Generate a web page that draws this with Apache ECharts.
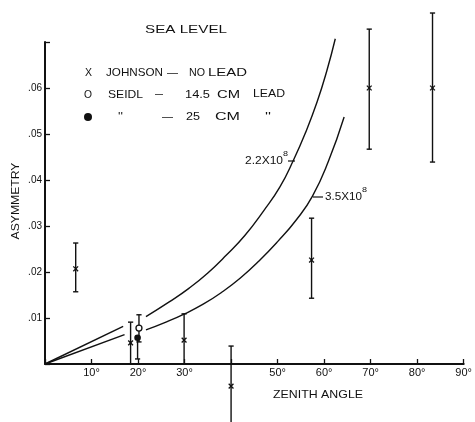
<!DOCTYPE html>
<html><head><meta charset="utf-8">
<script src="https://cdn.jsdelivr.net/npm/echarts@6/dist/echarts.min.js"></script>
<style>html,body{margin:0;padding:0;background:#fff}#c{width:475px;height:422px}</style>
</head><body><div id="c"></div>
<script>
// ---- tick labels ----
const xTickValues = [10, 20, 30, 50, 60, 70, 80, 90];
const yTickLabels = ['.01', '.02', '.03', '.04', '.05', '.06'];

// ---- Johnson, no lead (x markers) ----
const johnsonX    = [6.6,    18.4,   29.9,   40.0,    57.3,   69.7,   83.3];
const johnsonY    = [0.0207, 0.0046, 0.0052, -0.0048, 0.0226, 0.0600, 0.0600];
const johnsonLow  = [0.0157, 0.0,    0.0,    -0.0140, 0.0143, 0.0467, 0.0439];
const johnsonHigh = [0.0263, 0.0091, 0.0109, 0.0039,  0.0317, 0.0728, 0.0763];

// ---- Seidl 14.5 cm lead (open circle) ----
const seidl145X = [20.2], seidl145Y = [0.0078], seidl145Low = [0.0048], seidl145High = [0.0107];
// ---- Seidl 25 cm lead (filled circle) ----
const seidl25X = [19.9], seidl25Y = [0.0057], seidl25Low = [0.0011], seidl25High = [0.0057];

// ---- theoretical curves ----
const upperNearX = [0, 16.8];
const upperNearY = [0, 0.0082];
const upperFarX = [21.7, 26.7, 31.0, 35.0, 39.0, 43.0, 47.0, 50.5, 53.4, 56.0, 58.5, 60.6, 62.4];
const upperFarY = [0.0103, 0.0135, 0.0165, 0.0198, 0.0237, 0.0280, 0.0333, 0.0385, 0.0443, 0.0503, 0.0570, 0.0638, 0.0707];
const lowerNearX = [0, 17.1];
const lowerNearY = [0, 0.0064];
const lowerFarX = [21.7, 26.0, 30.0, 34.0, 38.0, 42.0, 46.0, 50.0, 54.0, 57.5, 60.9, 64.3];
const lowerFarY = [0.0074, 0.0091, 0.0109, 0.0130, 0.0156, 0.0187, 0.0224, 0.0266, 0.0313, 0.0365, 0.0440, 0.0537];

const INK = '#111';
const F = '"Liberation Sans", Arial, sans-serif';
const mctx = document.createElement('canvas').getContext('2d');
function txt(s, x, y, w, size, extra) {
  mctx.font = size + 'px ' + F;
  const m = mctx.measureText(s).width;
  const el = {type: 'text', x: x, y: y, scaleX: w / m,
    style: {text: s, font: size + 'px ' + F, fill: INK, align: 'left', verticalAlign: 'middle'}};
  if (extra) { Object.assign(el, extra.el || {}); Object.assign(el.style, extra.style || {}); }
  return el;
}
function pairs(xs, ys) { return xs.map((x, i) => [x, ys[i]]); }
function bars(xs, ys, lo, hi, kind) { return xs.map((x, i) => [x, ys[i], lo[i], hi[i], kind]); }

function errRender(params, api) {
  const x = api.value(0), y = api.value(1), lo = api.value(2), hi = api.value(3), kind = api.value(4);
  const p = api.coord([x, y]), a = api.coord([x, lo]), b = api.coord([x, hi]);
  const st = {stroke: INK, lineWidth: 1.4};
  const c = 2.6;
  const ch = [
    {type: 'line', shape: {x1: a[0], y1: a[1], x2: b[0], y2: b[1]}, style: st},
    {type: 'line', shape: {x1: b[0] - c, y1: b[1], x2: b[0] + c, y2: b[1]}, style: st},
    {type: 'line', shape: {x1: a[0] - c, y1: a[1], x2: a[0] + c, y2: a[1]}, style: st}
  ];
  if (kind === 0) {
    const s = 2.4, ms = {stroke: INK, lineWidth: 1.3};
    ch.push({type: 'line', shape: {x1: p[0] - s, y1: p[1] - s, x2: p[0] + s, y2: p[1] + s}, style: ms});
    ch.push({type: 'line', shape: {x1: p[0] - s, y1: p[1] + s, x2: p[0] + s, y2: p[1] - s}, style: ms});
  } else if (kind === 1) {
    ch.push({type: 'circle', shape: {cx: p[0], cy: p[1], r: 3}, style: {fill: '#fff', stroke: INK, lineWidth: 1.3}});
  } else {
    ch.push({type: 'circle', shape: {cx: p[0], cy: p[1], r: 3.3}, style: {fill: INK}});
  }
  return {type: 'group', children: ch};
}

const curveStyle = {color: INK, width: 1.4};
const chart = echarts.init(document.getElementById('c'), null, {renderer: 'canvas'});
chart.setOption({
  animation: false,
  backgroundColor: '#fff',
  grid: {left: 45, right: 9, top: 42, bottom: 58},
  xAxis: {
    type: 'value', min: 0, max: 90, interval: 10,
    axisLine: {show: true, onZero: false, lineStyle: {color: INK, width: 2}},
    axisTick: {show: true, inside: true, length: 5, lineStyle: {color: INK, width: 1.3}},
    axisLabel: {margin: 3, color: INK, fontSize: 11, fontFamily: F,
      formatter: v => xTickValues.indexOf(Math.round(v)) >= 0 ? Math.round(v) + '°' : ''},
    splitLine: {show: false}
  },
  yAxis: {
    type: 'value', min: 0, max: 0.07, interval: 0.01,
    axisLine: {show: true, onZero: false, lineStyle: {color: INK, width: 2}},
    axisTick: {show: true, inside: true, length: 5, lineStyle: {color: INK, width: 1.3}},
    axisLabel: {margin: 3, color: INK, fontSize: 10, fontFamily: F,
      formatter: v => { const i = Math.round(v * 100); return (i >= 1 && i <= 6) ? yTickLabels[i - 1] : ''; }},
    splitLine: {show: false}
  },
  series: [
    {type: 'line', data: pairs(upperNearX, upperNearY), symbol: 'none', lineStyle: curveStyle, clip: false},
    {type: 'line', data: pairs(upperFarX, upperFarY), symbol: 'none', smooth: 0.5, lineStyle: curveStyle, clip: false},
    {type: 'line', data: pairs(lowerNearX, lowerNearY), symbol: 'none', lineStyle: curveStyle, clip: false},
    {type: 'line', data: pairs(lowerFarX, lowerFarY), symbol: 'none', smooth: 0.5, lineStyle: curveStyle, clip: false},
    {type: 'custom', renderItem: errRender, clip: false, z: 5, data: bars(johnsonX, johnsonY, johnsonLow, johnsonHigh, 0)},
    {type: 'custom', renderItem: errRender, clip: false, z: 5, data: bars(seidl25X, seidl25Y, seidl25Low, seidl25High, 2)},
    {type: 'custom', renderItem: errRender, clip: false, z: 6, data: bars(seidl145X, seidl145Y, seidl145Low, seidl145High, 1)}
  ],
  graphic: [
    txt('SEA LEVEL', 145, 30, 82, 11),
    txt('X', 85, 73, 7, 11),
    txt('JOHNSON', 106, 73, 57, 11),
    txt('—', 167, 73, 11, 11),
    txt('NO', 189, 73, 16, 11),
    txt('LEAD', 208, 73, 39, 11),
    txt('O', 84, 95, 8, 11),
    txt('SEIDL', 108, 95, 35, 11),
    txt('—', 155, 94, 8, 11),
    txt('14.5', 185, 95, 25, 11),
    txt('CM', 217, 95, 23, 11),
    txt('LEAD', 253, 94, 32, 11),
    {type: 'circle', shape: {cx: 88, cy: 117, r: 4}, style: {fill: INK}},
    txt("''", 118, 117, 5, 11),
    txt('—', 162, 117, 11, 11),
    txt('25', 186, 117, 14, 11),
    txt('CM', 215, 117, 25, 11),
    txt("''", 265, 117, 6, 11),
    txt('ASYMMETRY', 16, 201, 77, 10, {el: {rotation: Math.PI / 2}, style: {align: 'center'}}),
    txt('ZENITH ANGLE', 273, 395, 90, 11),
    txt('2.2X10', 245, 161, 38, 11),
    txt('8', 283, 154, 5, 8),
    {type: 'line', shape: {x1: 288, y1: 161, x2: 295, y2: 161}, style: {stroke: INK, lineWidth: 1.2}},
    {type: 'line', shape: {x1: 313, y1: 197, x2: 323, y2: 197}, style: {stroke: INK, lineWidth: 1.2}},
    txt('3.5X10', 325, 197, 37, 11),
    txt('8', 362, 190, 5, 8)
  ]
});
</script></body></html>
